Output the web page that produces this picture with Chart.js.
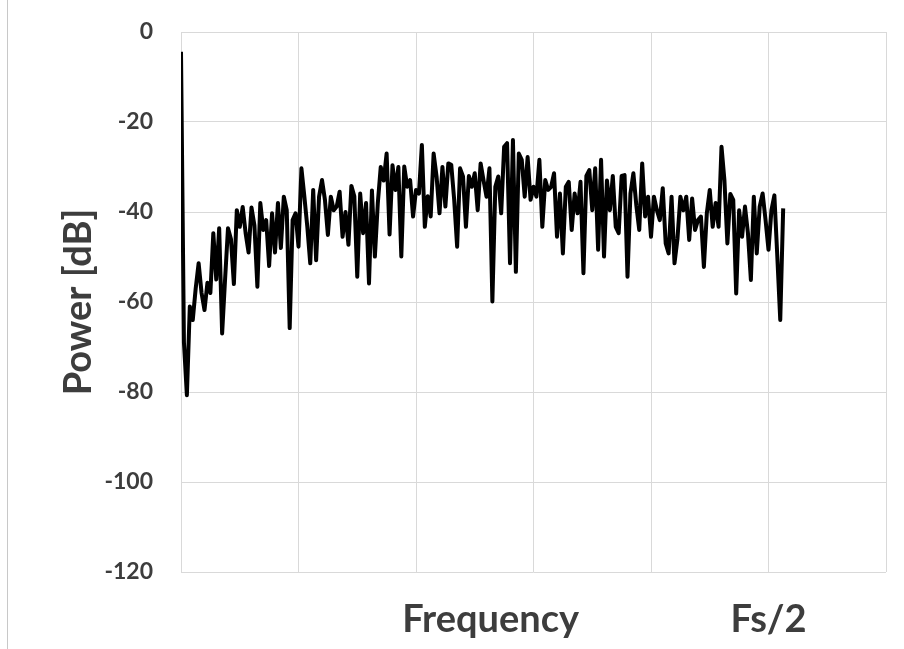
<!DOCTYPE html>
<html>
<head>
<meta charset="utf-8">
<script src="https://cdn.jsdelivr.net/npm/chart.js@4.4.1/dist/chart.umd.min.js"></script>
<style>
  html, body { margin: 0; padding: 0; background: #ffffff; }
  #wrap { position: relative; width: 904px; height: 649px; overflow: hidden; }
  #frame { position: absolute; left: 7px; top: 0; height: 649px; border-left: 1px solid #c8c8c8; }
  canvas { display: block; }
</style>
</head>
<body>
<div id="wrap">
  <canvas id="spectrum" width="904" height="649"></canvas>
  <div id="frame"></div>
</div>
<script>
// Spectrum: number of FFT bins between DC and Fs/2
const binsToNyquist = 200;

// Power per bin in dB, starting at DC
const powerDb = [
  -4.4, -69, -80.7, -61, -64, -57, -51.4, -58, -61.8, -55.7,
  -58, -44.7, -55, -43.6, -67, -55, -43.6, -46, -56, -39.6,
  -43.3, -38.9, -44.7, -49, -39, -43, -56.6, -38, -44, -41.8,
  -52, -40.3, -49, -38, -48, -36.6, -39.6, -65.8, -41.8, -40.3,
  -47.7, -30.3, -36.6, -43.3, -51.4, -35.1, -50.7, -36.6, -32.9, -37.3,
  -45.1, -36.6, -39.6, -38.8, -35.5, -45.5, -40, -47.3, -34.2, -36.5,
  -54.4, -35.9, -44.7, -38, -55.9, -35.2, -49.9, -38, -30, -33,
  -27, -45, -29.6, -35.1, -30, -49.9, -29.9, -34.4, -32.9, -41,
  -35.1, -35.9, -25.1, -43.3, -36.5, -41, -27, -32.1, -40.3, -30,
  -38.8, -29.2, -29.5, -37.3, -47.7, -30.3, -32.1, -43.3, -32, -34.4,
  -31.4, -39.6, -29.2, -33, -36.6, -30.3, -59.9, -34.4, -32.1, -40.3,
  -25.5, -24.7, -51.4, -24, -53.3, -27, -28.4, -36.6, -27.8, -37.3,
  -34.4, -36.6, -28.4, -43.3, -32.9, -35.1, -34.4, -31.4, -45.5, -35.9,
  -49.2, -34.4, -33.3, -44, -35.9, -40.3, -33.3, -53.6, -32, -30.7,
  -39.6, -30.3, -48.4, -28.4, -49.9, -33, -39.6, -32, -43.3, -44.7,
  -32, -31.8, -54.4, -35.9, -31.4, -38.5, -44, -29.2, -41, -36.6,
  -45.5, -36.6, -39.6, -41.8, -34.7, -47, -49.2, -36.6, -51.4, -46,
  -36.6, -39.6, -36.6, -46.2, -37, -44, -41.8, -41, -52.2, -40.3,
  -35.1, -43.3, -38, -43.3, -25.5, -33, -47, -36, -37.3, -58.1,
  -39.6, -45.5, -38.8, -44.7, -55.1, -36.6, -49.2, -38.8, -35.9, -41.8,
  -48.4, -39.6, -36.3, -49.9, -64, -39.2
];

// Axis ticks
const yTickValues = [0, -20, -40, -60, -80, -100, -120];
const xGridValues = [0, 0.2, 0.4, 0.6, 0.8, 1.0, 1.2];   // normalized frequency (Fs/2 = 1)
const xLabelValues = [0.527, 1.0];
const xLabelTexts = ['Frequency', 'Fs/2'];

const textColor = '#3d3d3d';
const gridColor = '#d9d9d9';
const fontFamily = 'Lato, "Open Sans", sans-serif';

const points = powerDb.map((p, i) => ({ x: i / binsToNyquist, y: p }));

new Chart(document.getElementById('spectrum'), {
  type: 'line',
  data: {
    datasets: [{
      data: points,
      borderColor: '#000000',
      borderWidth: 4,
      borderJoinStyle: 'round',
      pointRadius: 0,
      tension: 0,
      fill: false
    }]
  },
  options: {
    responsive: false,
    animation: false,
    devicePixelRatio: 1,
    parsing: false,
    layout: { padding: { left: 0, right: 18, top: 32, bottom: 0 } },
    plugins: { legend: { display: false }, tooltip: { enabled: false } },
    scales: {
      x: {
        type: 'linear',
        min: 0,
        max: 1.2,
        afterBuildTicks: (scale) => {
          const vals = Array.from(new Set([...xGridValues, ...xLabelValues])).sort((a, b) => a - b);
          scale.ticks = vals.map(v => ({ value: v }));
        },
        afterFit: (scale) => {
          scale.height = 77;
          scale.paddingLeft = 0;
          scale.paddingRight = 0;
        },
        border: { display: false },
        grid: {
          drawTicks: false,
          lineWidth: 1,
          color: (ctx) => (ctx.tick && xGridValues.includes(ctx.tick.value)) ? gridColor : 'rgba(0,0,0,0)'
        },
        ticks: {
          autoSkip: false,
          maxRotation: 0,
          padding: 25,
          color: textColor,
          font: { family: fontFamily, size: 38, weight: 'bold' },
          callback: (value) => {
            const idx = xLabelValues.indexOf(value);
            return idx >= 0 ? xLabelTexts[idx] : '';
          }
        }
      },
      y: {
        min: -120,
        max: 0,
        afterBuildTicks: (scale) => { scale.ticks = yTickValues.map(v => ({ value: v })); },
        afterFit: (scale) => {
          scale.width = 181;
          scale.paddingTop = 0;
          scale.paddingBottom = 0;
        },
        border: { display: false },
        grid: { drawTicks: false, color: gridColor, lineWidth: 1 },
        ticks: {
          padding: 28,
          color: textColor,
          font: { family: fontFamily, size: 23, weight: 'bold' },
          callback: (value) => String(value)
        },
        title: {
          display: true,
          text: 'Power [dB]',
          color: textColor,
          font: { family: fontFamily, size: 38, weight: 'bold' },
          padding: { top: 56, bottom: 0 }
        }
      }
    }
  }
});
</script>
</body>
</html>
